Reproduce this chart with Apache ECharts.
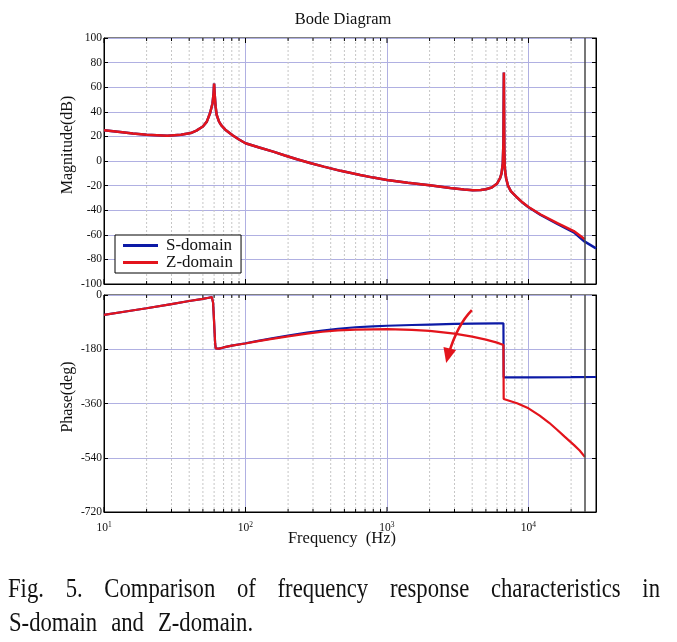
<!DOCTYPE html>
<html><head><meta charset="utf-8">
<script src="https://cdn.jsdelivr.net/npm/echarts@6/dist/echarts.min.js"></script>
<style>html,body{margin:0;padding:0;background:#fff}#c{width:677px;height:642px}</style>
</head><body><div id="c"></div>
<script>
// ---- data ----
const magFreqS = [10,13,16,20,28,35,41,45,50,53.3,56.2,58.5,59.5,60,60.5,61.5,62.6,65,67.5,72,81,90,100,125,157,190,231,290,357,470,647,800,1000,1400,2000,2800,3500,4060,4600,5000,5500,5980,6300,6450,6580,6650,6700,6750,6790,6850,6950,7160,7500,8280,9000,10000,12190,15990,20900,25000,30000];
const magS     = [25,23.6,22.3,21.4,20.6,21.3,22.7,24.7,28,32,39,47,55,63,55,44,37.4,32,29,25.5,21,17.5,14.4,11,7.6,4.5,1.4,-1.8,-4.6,-8,-11.4,-13.5,-15.4,-17.7,-19.8,-21.9,-23.2,-23.8,-23.6,-23,-21.6,-18.5,-14,-10,-2,15,72,10,-4,-9,-14,-20,-24.5,-29.5,-33.5,-37.6,-43.9,-51.2,-58,-65.6,-71];
const magFreqZ = [10,13,16,20,28,35,41,45,50,53.3,56.2,58.5,59.5,60,60.5,61.5,62.6,65,67.5,72,81,90,100,125,157,190,231,290,357,470,647,800,1000,1400,2000,2800,3500,4060,4600,5000,5500,5980,6300,6450,6580,6650,6700,6750,6790,6850,6950,7160,7500,8280,9000,10000,12190,15990,20900,25000];
const magZ     = [25,23.6,22.3,21.4,20.6,21.3,22.7,24.7,28,32,39,47,55,63,55,44,37.4,32,29,25.5,21,17.5,14.4,11,7.6,4.5,1.4,-1.8,-4.6,-8,-11.4,-13.5,-15.4,-17.7,-19.8,-21.9,-23.2,-23.8,-23.6,-23,-21.6,-18.5,-14,-10,-2,15,72,10,-4,-9,-14,-20,-24.5,-29.5,-33.4,-37.4,-43.5,-50.5,-57,-63.7];

const phFreqS = [10,15,20,30,40,50,55,57.8,59,60,61,61.6,62.5,65,70,80,100,120,150,200,272,350,450,600,800,1000,1500,2000,3000,4000,6000,6650,6680,10000,20000,30000];
const phaseS  = [-66,-53,-44,-30,-20,-13,-9,-7,-25,-90,-160,-177,-179,-178,-174,-168,-160,-153,-145,-135,-125,-118,-112,-107,-104,-102,-99.5,-98,-96,-95,-94,-94,-273,-273,-272.5,-272];
const phFreqZ = [10,15,20,30,40,50,55,57.8,59,60,61,61.6,62.5,65,70,80,100,120,150,200,272,350,450,600,800,1000,1500,2000,3000,4000,5000,6000,6650,6680,8300,10000,12000,14000,16000,18000,21000,23000,25000];
const phaseZ  = [-66,-53,-44,-30,-20,-13,-9,-7,-25,-90,-160,-177,-179,-178,-174,-168,-161,-154,-146.5,-137,-128,-122,-117.5,-115,-114,-113.5,-115.5,-119,-128,-138,-148,-158,-166,-345,-359,-376,-400,-424,-448,-470,-498,-516,-537];

const magTicks = [-100,-80,-60,-40,-20,0,20,40,60,80,100];
const phaseTicks = [-720,-540,-360,-180,0];
const decadeLabels = [10,100,1000,10000];
const nyquistFreq = 25000;
// annotation arrow: [fromFreq, fromPhase, toFreq, toPhase]
const arrowData = [[3980, -50, 2620, -226]];

// grid tick positions (decades 1..9)
const tickFreqs = [];
for (const d of decadeLabels) for (let m = 1; m <= 9; m++) { const f = d*m; if (f < 30000) tickFreqs.push([f, m === 1 ? 1 : 0]); }

const FONT = '"Liberation Serif", "Times New Roman", serif';
const BLUE = '#0c1aa6', RED = '#e3141c';
const GRID_C = '#b0b0e2';
const pairs = (fs, vs) => fs.map((f, i) => [f, vs[i]]);

function gridItem(params, api) {
  const f = api.value(0), major = api.value(1);
  const cs = params.coordSys;
  const x = api.coord([f, params.seriesIndex === 0 ? 0 : -1])[0];
  const top = cs.y, bot = cs.y + cs.height;
  const ch = [];
  if (!major) ch.push({type:'line', shape:{x1:x,y1:top,x2:x,y2:bot}, style:{stroke:'#c6c6c6', lineWidth:1, lineDash:[2,2]}});
  const L = major ? 5 : 3;
  ch.push({type:'line', shape:{x1:x,y1:top,x2:x,y2:top+L}, style:{stroke:'#000', lineWidth:1}});
  ch.push({type:'line', shape:{x1:x,y1:bot,x2:x,y2:bot-L}, style:{stroke:'#000', lineWidth:1}});
  return {type:'group', children: ch};
}

function arrowItem(params, api) {
  const p0 = api.coord([api.value(0), api.value(1)]);
  const p2 = api.coord([api.value(2), api.value(3)]);
  const dx = p2[0]-p0[0], dy = p2[1]-p0[1], len = Math.hypot(dx, dy);
  const ux = dx/len, uy = dy/len;     // along chord
  const nx = uy, ny = -ux;            // normal
  const mid = [(p0[0]+p2[0])/2, (p0[1]+p2[1])/2];
  const a = -0.13*len, b = -0.115*len;
  const c = [mid[0]+nx*a+ux*b, mid[1]+ny*a+uy*b];
  let tx = p2[0]-c[0], ty = p2[1]-c[1]; const tl = Math.hypot(tx, ty); tx/=tl; ty/=tl;
  const HL = 15, HW = 6.5;
  const base = [p2[0]-tx*HL, p2[1]-ty*HL];
  const t = 0.86;
  const s0 = [(1-t)*(1-t)*p0[0]+2*(1-t)*t*c[0]+t*t*p2[0], (1-t)*(1-t)*p0[1]+2*(1-t)*t*c[1]+t*t*p2[1]];
  const cc = [(1-t)*p0[0]+t*c[0], (1-t)*p0[1]+t*c[1]];
  return {type:'group', children:[
    {type:'path', shape:{pathData:'M'+p0[0]+','+p0[1]+' Q'+cc[0]+','+cc[1]+' '+s0[0]+','+s0[1]}, style:{stroke:RED, lineWidth:2.6, fill:'none'}},
    {type:'polygon', shape:{points:[[p2[0],p2[1]],[base[0]+ty*HW, base[1]-tx*HW],[base[0]-ty*HW, base[1]+tx*HW]]}, style:{fill:RED}}
  ]};
}

function expLabel(v) {
  const e = Math.round(Math.log10(v));
  if (Math.abs(v - Math.pow(10, e)) / v > 1e-6) return '';
  return '{b|10}{s|' + e + '}';
}

const nyq = {silent:true, symbol:'none', animation:false, label:{show:false},
  lineStyle:{color:'#4a4a4a', width:1.5, type:'solid'}, data:[{xAxis:nyquistFreq}]};

const xBase = (gi, labels) => ({
  type:'log', logBase:10, gridIndex:gi, min:10, max:30000,
  axisLine:{show:true, onZero:false, lineStyle:{color:'#000', width:1}},
  axisTick:{show:false},
  axisLabel: labels ? {show:true, margin:9, formatter: expLabel, color:'#111',
    rich:{b:{fontFamily:FONT, fontSize:11.5, color:'#111'}, s:{fontFamily:FONT, fontSize:7.5, color:'#111', verticalAlign:'top', padding:[0,0,6,0]}}} : {show:false},
  splitLine:{show:true, lineStyle:{color:GRID_C, width:1}}
});
const yBase = (gi, min, max, itv, right) => ({
  type:'value', gridIndex:gi, min, max, interval:itv, position: right ? 'right' : 'left',
  axisLine:{show:true, onZero:false, lineStyle:{color:'#000', width:1}},
  axisTick:{show:true, inside:true, length:4, lineStyle:{color:'#000'}},
  axisLabel: right ? {show:false} : {show:true, margin:2, fontFamily:FONT, fontSize:11.5, color:'#111'},
  splitLine: right ? {show:false} : {show:true, lineStyle:{color:GRID_C, width:1}}
});

const chart = echarts.init(document.getElementById('c'), null, {renderer:'canvas'});

// caption layout (justified first line)
const cv = document.createElement('canvas').getContext('2d');
const CAP_FS = 27, CAP_SX = 0.84;
cv.font = CAP_FS + 'px "Liberation Serif"';
const line1 = 'Fig. 5. Comparison of frequency response characteristics in'.split(' ');
const w1 = line1.map(w => cv.measureText(w).width * CAP_SX);
const gap1 = (652 - w1.reduce((a,b)=>a+b,0)) / (line1.length - 1);
const capEls = [];
let cx = 8;
line1.forEach((w, i) => { capEls.push({type:'text', x:cx, y:590, scaleX:CAP_SX, style:{text:w, fontFamily:FONT, fontSize:CAP_FS, fill:'#111', verticalAlign:'middle'}}); cx += w1[i] + gap1; });
const line2 = 'S-domain and Z-domain.'.split(' ');
cx = 9;
line2.forEach(w => { capEls.push({type:'text', x:cx, y:624, scaleX:CAP_SX, style:{text:w, fontFamily:FONT, fontSize:CAP_FS, fill:'#111', verticalAlign:'middle'}}); cx += cv.measureText(w).width*CAP_SX + 14; });

chart.setOption({
  animation:false,
  backgroundColor:'#fff',
  grid:[
    {left:104, top:38, width:492, height:246, show:true, borderColor:'#000', borderWidth:1, backgroundColor:'transparent'},
    {left:104, top:295, width:492, height:217, show:true, borderColor:'#000', borderWidth:1, backgroundColor:'transparent'}
  ],
  xAxis:[xBase(0,false), xBase(1,true)],
  yAxis:[yBase(0,-100,100,20,false), yBase(0,-100,100,20,true), yBase(1,-720,0,180,false), yBase(1,-720,0,180,true)],
  legend:{
    data:['S-domain','Z-domain'], left:115, top:235, orient:'vertical', selectedMode:false,
    backgroundColor:'#fff', borderColor:'#000', borderWidth:1, borderRadius:0, padding:[2,8,2,8], itemGap:0,
    itemWidth:35, itemHeight:3, icon:'rect',
    textStyle:{fontFamily:FONT, fontSize:17, color:'#111', padding:[0,0,0,3]}
  },
  graphic:[
    {type:'text', x:343, y:20, style:{text:'Bode Diagram', fontFamily:FONT, fontSize:16.5, fill:'#111', align:'center', verticalAlign:'middle'}},
    {type:'text', x:68, y:145, rotation:Math.PI/2, style:{text:'Magnitude(dB)', fontFamily:FONT, fontSize:16, fill:'#111', align:'center', verticalAlign:'middle'}},
    {type:'text', x:68, y:397, rotation:Math.PI/2, style:{text:'Phase(deg)', fontFamily:FONT, fontSize:16, fill:'#111', align:'center', verticalAlign:'middle'}},
    {type:'text', x:342, y:539, style:{text:'Frequency  (Hz)', fontFamily:FONT, fontSize:16.5, fill:'#111', align:'center', verticalAlign:'middle'}}
  ].concat(capEls),
  series:[
    {type:'custom', xAxisIndex:0, yAxisIndex:0, renderItem:gridItem, data:tickFreqs, silent:true, z:1},
    {type:'custom', xAxisIndex:1, yAxisIndex:2, renderItem:gridItem, data:tickFreqs, silent:true, z:1},
    {name:'S-domain', type:'line', xAxisIndex:0, yAxisIndex:0, data:pairs(magFreqS, magS), showSymbol:false, symbol:'none',
      lineStyle:{color:BLUE, width:2.5}, itemStyle:{color:BLUE}, z:3, markLine:nyq},
    {name:'Z-domain', type:'line', xAxisIndex:0, yAxisIndex:0, data:pairs(magFreqZ, magZ), showSymbol:false, symbol:'none',
      lineStyle:{color:RED, width:2.5}, itemStyle:{color:RED}, z:4},
    {name:'S-domain', type:'line', xAxisIndex:1, yAxisIndex:2, data:pairs(phFreqS, phaseS), showSymbol:false, symbol:'none',
      lineStyle:{color:BLUE, width:2.2}, itemStyle:{color:BLUE}, z:3, markLine:nyq},
    {name:'Z-domain', type:'line', xAxisIndex:1, yAxisIndex:2, data:pairs(phFreqZ, phaseZ), showSymbol:false, symbol:'none',
      lineStyle:{color:RED, width:2.2}, itemStyle:{color:RED}, z:4},
    {type:'custom', xAxisIndex:1, yAxisIndex:2, renderItem:arrowItem, data:arrowData, silent:true, z:6,
      encode:{x:[0,2], y:[1,3]}}
  ]
});
</script></body></html>
